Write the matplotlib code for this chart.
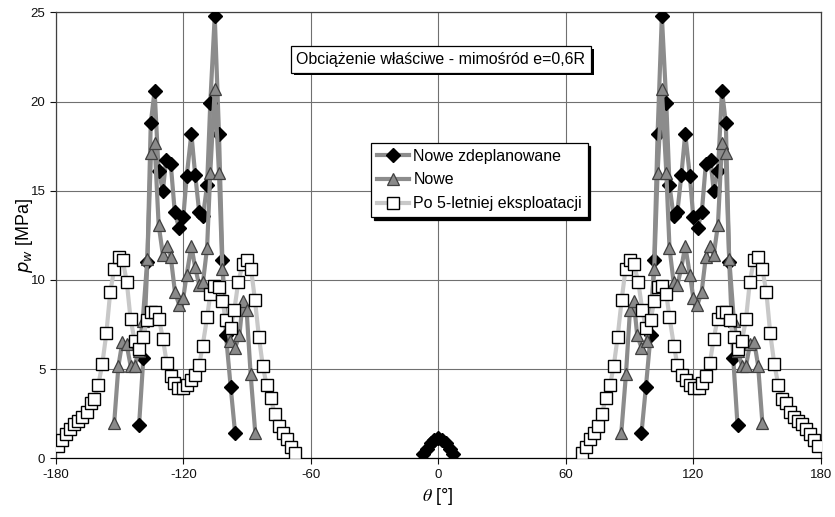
import numpy as np
import matplotlib
matplotlib.use("Agg")
import matplotlib.pyplot as plt
from matplotlib import patheffects as pe

plt.rcParams['font.family'] = ['Liberation Sans', 'DejaVu Sans']
plt.rcParams['axes.unicode_minus'] = False

# ---------------- data ----------------
# Series 1: "Nowe zdeplanowane" (black diamonds)
zd_left_x = [-140.8, -138.8, -136.9, -135.3, -133.5, -131.6, -129.6, -128.1, -125.9, -124.0,
             -122.0, -120.0, -118.4, -116.2, -114.4, -112.5, -110.7, -108.8, -107.3, -105.2,
             -103.2, -101.6, -99.9, -97.7, -95.6]
zd_left_y = [1.87, 5.6, 11.0, 18.8, 20.6, 16.1, 15.0, 16.7, 16.5, 13.8,
             12.9, 13.5, 15.8, 18.2, 15.9, 13.8, 13.6, 15.3, 19.9, 24.8,
             18.2, 11.1, 6.9, 4.0, 1.4]
zd_mid_x = [-7.0, -5.3, -3.5, -1.8, 0.0, 1.8, 3.5, 5.3, 7.0]
zd_mid_y = [0.25, 0.55, 0.85, 1.05, 1.15, 1.05, 0.85, 0.55, 0.25]
zd_right_x = [95.6, 97.7, 99.9, 101.6, 103.2, 105.2, 107.3, 108.8, 110.7, 112.5,
              114.4, 116.2, 118.4, 120.0, 122.0, 124.0, 125.9, 128.1, 129.6, 131.6,
              133.5, 135.3, 136.9, 138.8, 140.8]
zd_right_y = [1.4, 4.0, 6.9, 11.1, 18.2, 24.8, 19.9, 15.3, 13.6, 13.8,
              15.9, 18.2, 15.8, 13.5, 12.9, 13.8, 16.5, 16.7, 15.0, 16.1,
              20.6, 18.8, 11.0, 5.6, 1.87]

# Series 2: "Nowe" (grey triangles)
nw_left_x = [-152.5, -150.5, -148.7, -146.7, -144.8, -142.9, -141.0, -139.1, -136.9, -135.2,
             -133.5, -131.6, -129.6, -127.7, -125.9, -123.9, -121.9, -120.0, -118.4, -116.2,
             -114.4, -112.5, -110.7, -108.8, -107.3, -105.2, -103.2, -101.6, -99.9, -98.0,
             -95.6, -93.6, -92.0, -90.2, -88.3, -86.1]
nw_left_y = [2.0, 5.2, 6.5, 6.4, 5.2, 5.2, 6.0, 7.7, 11.2, 17.1,
             17.7, 13.1, 11.4, 11.9, 11.3, 9.3, 8.6, 9.0, 10.3, 11.9,
             10.7, 9.7, 9.9, 11.8, 16.0, 20.7, 16.0, 10.6, 7.75, 6.6,
             6.2, 6.9, 8.8, 8.3, 4.7, 1.4]
nw_right_x = [86.1, 88.3, 90.2, 92.0, 93.6, 95.6, 98.0, 99.9, 101.6, 103.2,
              105.2, 107.3, 108.8, 110.7, 112.5, 114.4, 116.2, 118.4, 120.0, 121.9,
              123.9, 125.9, 127.7, 129.6, 131.6, 133.5, 135.2, 136.9, 139.1, 141.0,
              142.9, 144.8, 146.7, 148.7, 150.5, 152.5]
nw_right_y = [1.4, 4.7, 8.3, 8.8, 6.9, 6.2, 6.6, 7.75, 10.6, 16.0,
              20.7, 16.0, 11.8, 9.9, 9.7, 10.7, 11.9, 10.3, 9.0, 8.6,
              9.3, 11.3, 11.9, 11.4, 13.1, 17.7, 17.1, 11.2, 7.7, 6.0,
              5.2, 5.2, 6.4, 6.5, 5.2, 2.0]

# Series 3: "Po 5-letniej eksploatacji" (white squares)
ek_left_x = [-178.8, -176.9, -175.1, -173.2, -171.3, -169.4, -167.5, -165.5, -163.6, -161.9,
             -160.0, -158.1, -156.2, -154.4, -152.5, -150.4, -148.5, -146.6, -144.8, -142.9,
             -141.0, -139.0, -137.1, -135.2, -133.3, -131.4, -129.6, -127.8, -125.9, -124.2,
             -122.5, -120.3, -118.4, -116.4, -114.5, -112.5, -110.9, -108.8, -107.3, -105.4,
             -103.2, -101.6, -99.9, -97.7, -96.0, -94.1, -92.0, -90.2, -88.1, -86.3,
             -84.4, -82.6, -80.8, -78.9, -76.9, -75.1, -73.2, -71.3, -69.3, -67.4]
ek_left_y = [0.69, 1.03, 1.34, 1.62, 1.9, 2.1, 2.33, 2.6, 3.1, 3.3,
             4.1, 5.3, 7.0, 9.3, 10.6, 11.3, 11.1, 9.9, 7.8, 6.6,
             6.1, 6.8, 7.75, 8.2, 8.2, 7.8, 6.7, 5.36, 4.6, 4.2,
             3.96, 3.96, 4.1, 4.4, 4.67, 5.23, 6.3, 7.9, 9.2, 9.66,
             9.6, 8.8, 7.75, 7.3, 8.3, 9.9, 10.9, 11.1, 10.6, 8.9,
             6.8, 5.2, 4.1, 3.36, 2.5, 1.8, 1.4, 1.07, 0.65, 0.28]
ek_right_x = [67.4, 69.3, 71.3, 73.2, 75.1, 76.9, 78.9, 80.8, 82.6, 84.4,
              86.3, 88.1, 90.2, 92.0, 94.1, 96.0, 97.7, 99.9, 101.6, 103.2,
              105.4, 107.3, 108.8, 110.9, 112.5, 114.5, 116.4, 118.4, 120.3, 122.5,
              124.2, 125.9, 127.8, 129.6, 131.4, 133.3, 135.2, 137.1, 139.0, 141.0,
              142.9, 144.8, 146.6, 148.5, 150.4, 152.5, 154.4, 156.2, 158.1, 160.0,
              161.9, 163.6, 165.5, 167.5, 169.4, 171.3, 173.2, 175.1, 176.9, 178.8]
ek_right_y = [0.28, 0.65, 1.07, 1.4, 1.8, 2.5, 3.36, 4.1, 5.2, 6.8,
              8.9, 10.6, 11.1, 10.9, 9.9, 8.3, 7.3, 7.75, 8.8, 9.6,
              9.66, 9.2, 7.9, 6.3, 5.23, 4.67, 4.4, 4.1, 3.96, 3.96,
              4.2, 4.6, 5.36, 6.7, 7.8, 8.2, 8.2, 7.75, 6.8, 6.1,
              6.6, 7.8, 9.9, 11.1, 11.3, 10.6, 9.3, 7.0, 5.3, 4.1,
              3.3, 3.1, 2.6, 2.33, 2.1, 1.9, 1.62, 1.34, 1.03, 0.69]

labels = ["Nowe zdeplanowane", "Nowe", "Po 5-letniej eksploatacji"]
x_ticks = [-180, -120, -60, 0, 60, 120, 180]
y_ticks = [0, 5, 10, 15, 20, 25]
title_text = "Obciążenie właściwe - mimośród e=0,6R"

# ---------------- figure ----------------
fig = plt.figure(figsize=(8.35, 5.17), dpi=100)
ax = fig.add_axes([0.0668, 0.1135, 0.9162, 0.8627])


def join(*segs):
    xs, ys = [], []
    for i, (sx, sy) in enumerate(segs):
        if i:
            xs.append(np.nan)
            ys.append(np.nan)
        xs += list(sx)
        ys += list(sy)
    return np.array(xs, float), np.array(ys, float)


x1, y1 = join((zd_left_x, zd_left_y), (zd_mid_x, zd_mid_y), (zd_right_x, zd_right_y))
x2, y2 = join((nw_left_x, nw_left_y), (nw_right_x, nw_right_y))
x3, y3 = join((ek_left_x, ek_left_y), (ek_right_x, ek_right_y))

ax.plot(x1, y1, color='#8c8c8c', lw=3.0, marker='D', ms=6.8,
        mfc='black', mec='black', label=labels[0], zorder=3)
ax.plot(x2, y2, color='#8c8c8c', lw=3.0, marker='^', ms=8.5,
        mfc='#8a8a8a', mec='#404040', mew=0.9, label=labels[1], zorder=4)
ax.plot(x3, y3, color='#c8c8c8', lw=3.0, marker='s', ms=8.5,
        mfc='white', mec='black', mew=1.0, label=labels[2], zorder=5)

ax.set_xlim(-180, 180)
ax.set_ylim(0, 25)
ax.set_xticks(x_ticks)
ax.set_yticks(y_ticks)
ax.grid(True, color='#707070', lw=0.8)
ax.set_axisbelow(True)
for s in ax.spines.values():
    s.set_color('#404040')
    s.set_linewidth(0.9)
ax.spines['bottom'].set_color('black')
ax.tick_params(axis='both', labelsize=9.5, colors='#111111', length=4, width=0.8)
ax.tick_params(axis='x', pad=4)

ax.set_xlabel(r'$\theta$ [°]', fontsize=13, math_fontfamily='stix', labelpad=3)
ax.set_ylabel(r'$p_w$ [MPa]', fontsize=13, math_fontfamily='dejavusans',
              va='center')
ax.yaxis.set_label_coords(-0.041, 0.5)

leg = ax.legend(loc='upper left', bbox_to_anchor=(0.412, 0.707), fontsize=11.5,
                frameon=True, fancybox=False, edgecolor='black', framealpha=1,
                borderpad=0.35, labelspacing=0.55, handlelength=2.0, handletextpad=0.3,
                borderaxespad=0.0,
                shadow={'color': 'black', 'alpha': 1})
leg.get_frame().set_linewidth(0.9)

t = ax.text(0.5035, 0.894, title_text, transform=ax.transAxes, ha='center', va='center',
            fontsize=11.5, zorder=10,
            bbox=dict(boxstyle='square,pad=0.35', fc='white', ec='black', lw=0.9))
t.get_bbox_patch().set_path_effects([pe.withSimplePatchShadow(offset=(2, -2),
                                                              shadow_rgbFace='black', alpha=1)])

fig.savefig('out.png', dpi=100, facecolor='white')
